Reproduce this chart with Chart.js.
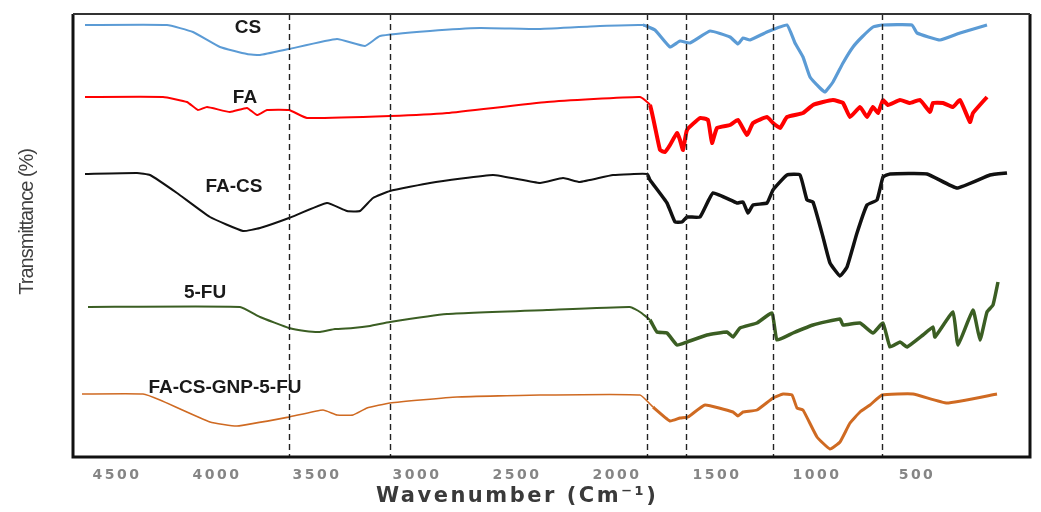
<!DOCTYPE html>
<html>
<head>
<meta charset="utf-8">
<title>FTIR spectra</title>
<script src="https://cdn.jsdelivr.net/npm/chart.js@4.4.1/dist/chart.umd.min.js"></script>
<style>
    html, body { margin: 0; padding: 0; background: #fff; }
    #wrap { width: 1041px; height: 512px; position: relative; }
</style>
</head>
<body>
<div id="wrap"><canvas id="ftirChart"></canvas></div>
<script>
// Spectra (wavenumber in cm-1, transmittance in stacked arbitrary units)
const csWave = [4660, 4250, 4120, 3985, 3850, 3785, 3640, 3400, 3260, 3185, 2935, 2685, 2385, 2085, 1870, 1810, 1735, 1685, 1635, 1535, 1435, 1395, 1370, 1335, 1250, 1150, 1110, 1070, 1035, 985, 960, 920, 870, 820, 775, 720, 675, 525, 500, 385, 285, 150];
const csT    = [432, 432, 425, 410, 403, 402, 408, 418, 411, 421, 426, 429, 428, 431, 432, 427, 410, 416, 414, 426, 420, 413, 419, 417, 425, 432, 414, 400, 380, 369, 365, 375, 394, 410, 420, 430, 432, 432, 424, 417, 424, 432];

const faWave = [4660, 4270, 4150, 4095, 4050, 3935, 3850, 3800, 3750, 3640, 3550, 3135, 2850, 2350, 1885, 1835, 1785, 1760, 1735, 1700, 1685, 1670, 1650, 1585, 1545, 1525, 1500, 1435, 1395, 1350, 1320, 1250, 1220, 1185, 1150, 1070, 1020, 970, 920, 870, 835, 785, 750, 720, 695, 670, 645, 585, 535, 485, 435, 420, 370, 320, 285, 235, 220, 150];
const faT    = [360, 360, 355, 347, 350, 345, 349, 342, 347, 347, 339, 341, 344, 355, 360, 352, 307, 305, 312, 324, 317, 307, 327, 339, 337, 314, 329, 332, 337, 322, 334, 340, 334, 329, 340, 344, 352, 355, 357, 354, 340, 350, 340, 350, 344, 357, 352, 357, 354, 357, 345, 354, 354, 350, 357, 335, 344, 360];

const facsWave = [4660, 4400, 4335, 4200, 4035, 3870, 3785, 3640, 3450, 3350, 3285, 3220, 3135, 2935, 2620, 2385, 2270, 2185, 2020, 1850, 1835, 1750, 1710, 1675, 1650, 1585, 1520, 1400, 1370, 1345, 1320, 1250, 1220, 1150, 1085, 1050, 1020, 970, 935, 885, 850, 800, 750, 700, 670, 635, 450, 300, 135, 50];
const facsT    = [283, 284, 282, 264, 240, 226, 229, 239, 254, 246, 246, 259, 266, 274, 282, 274, 279, 275, 282, 283, 277, 254, 235, 235, 240, 240, 264, 254, 255, 244, 252, 254, 267, 282, 282, 257, 255, 220, 194, 181, 190, 224, 252, 257, 280, 283, 283, 269, 282, 284];

const fuWave = [4645, 3885, 3785, 3640, 3560, 3485, 3410, 3320, 3235, 3135, 2850, 2350, 1935, 1885, 1835, 1800, 1750, 1700, 1650, 1550, 1450, 1420, 1385, 1300, 1225, 1200, 1120, 1020, 885, 870, 785, 720, 670, 635, 585, 550, 470, 420, 410, 320, 295, 220, 185, 150, 120, 95];
const fuT    = [150, 150, 140, 129, 126, 125, 128, 129, 131, 135, 143, 147, 150, 145, 137, 125, 124, 112, 115, 122, 125, 120, 129, 134, 144, 117, 124, 132, 138, 132, 134, 124, 134, 110, 115, 110, 122, 130, 120, 145, 112, 147, 117, 145, 152, 175];

const gnpWave = [4675, 4370, 4285, 4035, 3900, 3640, 3470, 3400, 3320, 3250, 3135, 2800, 2385, 1885, 1820, 1735, 1685, 1645, 1560, 1420, 1395, 1370, 1300, 1220, 1170, 1125, 1100, 1070, 1000, 935, 885, 835, 785, 735, 675, 520, 350, 100];
const gnpT    = [63, 63, 57, 35, 31, 40, 47, 42, 42, 49, 54, 60, 62, 62, 50, 36, 39, 40, 52, 45, 41, 45, 47, 59, 63, 62, 49, 47, 20, 8, 15, 34, 45, 52, 62, 63, 54, 63];

const seriesNames = ['CS', 'FA', 'FA-CS', '5-FU', 'FA-CS-GNP-5-FU'];
const markerLines = [3640, 3135, 1850, 1655, 1220, 675];   // dashed guides
const xTicks = [4500, 4000, 3500, 3000, 2500, 2000, 1500, 1000, 500];

// Style per trace: colour, thin width (high wavenumber), thick width (fingerprint region)
const STYLES = [
    { color: '#5b9bd5', thin: 2, thick: 3.2 },
    { color: '#ff0000', thin: 2, thick: 4 },
    { color: '#111111', thin: 2, thick: 3.5 },
    { color: '#3b5e23', thin: 2, thick: 3.5 },
    { color: '#cf6a22', thin: 1.6, thick: 3 }
];
// label anchors in data space
const LABELS = [
    { text: 'CS', x: 3845, y: 429 },
    { text: 'FA', x: 3860, y: 359 },
    { text: 'FA-CS', x: 3915, y: 270 },
    { text: '5-FU', x: 4060, y: 164 },
    { text: 'FA-CS-GNP-5-FU', x: 3960, y: 69 }
];

function toPoints(xs, ys) {
    return xs.map((x, i) => ({ x: x, y: ys[i] }));
}

const allSeries = [
    toPoints(csWave, csT),
    toPoints(faWave, faT),
    toPoints(facsWave, facsT),
    toPoints(fuWave, fuT),
    toPoints(gnpWave, gnpT)
];

const datasets = allSeries.map((pts, i) => {
    const st = STYLES[i];
    return {
        label: seriesNames[i],
        data: pts,
        borderColor: st.color,
        borderWidth: st.thin,
        pointRadius: 0,
        tension: 0.12,
        fill: false,
        segment: {
            borderWidth: ctx => (ctx.p0.parsed.x < 1880 ? st.thick : st.thin)
        }
    };
});

// Dashed guides, letter spacing per layer, frame and trace labels
const decorPlugin = {
    id: 'decor',
    beforeDraw(chart) {
        // condensed y title
        chart.ctx.letterSpacing = '-1px';
    },
    afterDatasetsDraw(chart) {
        const { ctx, chartArea, scales } = chart;
        ctx.save();
        ctx.strokeStyle = '#222';
        ctx.lineWidth = 1.4;
        ctx.setLineDash([6, 4]);
        markerLines.forEach(v => {
            const px = Math.round(scales.x.getPixelForValue(v)) + 0.5;
            ctx.beginPath();
            ctx.moveTo(px, chartArea.top);
            ctx.lineTo(px, chartArea.bottom);
            ctx.stroke();
        });
        ctx.restore();
        // wide look for the x axis text drawn next
        ctx.letterSpacing = '2.5px';
    },
    afterDraw(chart) {
        const { ctx, chartArea, scales } = chart;
        ctx.save();
        ctx.letterSpacing = '0px';
        // frame
        ctx.strokeStyle = '#111';
        ctx.lineWidth = 3;
        ctx.beginPath();
        ctx.moveTo(chartArea.left, chartArea.top);
        ctx.lineTo(chartArea.left, chartArea.bottom);
        ctx.lineTo(chartArea.right, chartArea.bottom);
        ctx.lineTo(chartArea.right, chartArea.top);
        ctx.stroke();
        ctx.strokeStyle = '#333';
        ctx.lineWidth = 2;
        ctx.beginPath();
        ctx.moveTo(chartArea.left, chartArea.top);
        ctx.lineTo(chartArea.right, chartArea.top);
        ctx.stroke();
        // trace labels
        ctx.fillStyle = '#1a1a1a';
        ctx.font = 'bold 19px "Liberation Sans", Arial, sans-serif';
        ctx.textAlign = 'center';
        ctx.textBaseline = 'middle';
        LABELS.forEach(l => {
            ctx.fillText(l.text, scales.x.getPixelForValue(l.x), scales.y.getPixelForValue(l.y));
        });
        ctx.restore();
    }
};

function createChart() {
    const ctx = document.getElementById('ftirChart');
    return new Chart(ctx, {
        type: 'line',
        data: { datasets: datasets },
        options: {
            responsive: true,
            maintainAspectRatio: false,
            animation: false,
            layout: { padding: { top: 14, right: 11, left: 0, bottom: 0 } },
            plugins: {
                legend: { display: false },
                tooltip: { enabled: false }
            },
            scales: {
                x: {
                    type: 'linear',
                    reverse: true,
                    min: -65,
                    max: 4720,
                    afterBuildTicks: scale => {
                        scale.ticks = xTicks.map(v => ({ value: v }));
                    },
                    afterFit: scale => { scale.height = 55; },
                    // title lives in the grid layer, so lift it above the datasets too
                    grid: { display: false, drawTicks: false, z: 1 },
                    border: { display: false },
                    ticks: {
                        z: 1,
                        padding: 10,
                        color: '#858585',
                        font: { family: '"DejaVu Sans", sans-serif', size: 14, weight: 'bold' },
                        maxRotation: 0,
                        autoSkip: false,
                        callback: v => String(v)
                    },
                    title: {
                        display: true,
                        // trailing spaces pull the centred title left like the original
                        text: 'Wavenumber (Cm\u207B\u00B9)       ',
                        color: '#3a3a3a',
                        font: { family: '"DejaVu Sans", sans-serif', size: 21, weight: 'bold', lineHeight: 1.2 },
                        padding: { top: 0, bottom: 3 }
                    }
                },
                y: {
                    min: 0,
                    max: 443,
                    afterFit: scale => { scale.width = 73; },
                    grid: { display: false, drawTicks: false },
                    border: { display: false },
                    ticks: { display: false },
                    title: {
                        display: true,
                        text: '      Transmittance (%)',
                        color: '#404040',
                        font: { family: '"Liberation Sans", sans-serif', size: 20, lineHeight: 1.2 },
                        padding: { top: 15, bottom: 0 }
                    }
                }
            }
        },
        plugins: [decorPlugin]
    });
}

document.addEventListener('DOMContentLoaded', () => {
    createChart();
});
</script>
</body>
</html>
